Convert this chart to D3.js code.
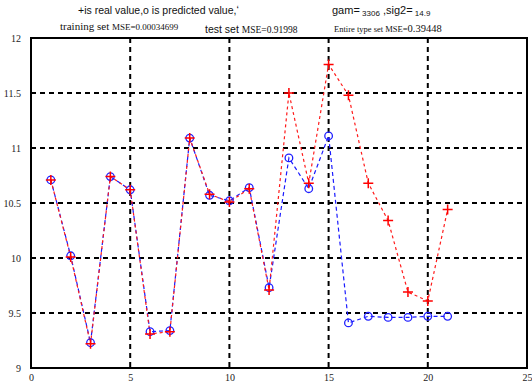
<!DOCTYPE html>
<html>
<head>
<meta charset="utf-8">
<script src="https://cdn.jsdelivr.net/npm/d3@7"></script>
<style>
  body { margin: 0; background: #fff; }
  svg { display: block; }
</style>
</head>
<body>
<svg id="mychart"></svg>
<script>
const width = 532, height = 388
const margin = ({top: 38, right: 5, bottom: 20, left: 31})

const xs = d3.range(1, 22)
const realValue = [10.71, 10.01, 9.22, 10.74, 10.62, 9.31, 9.33, 11.09, 10.58, 10.51, 10.63,
  9.71, 11.50, 10.68, 11.76, 11.48, 10.68, 10.34, 9.69, 9.61, 10.44]
const predValue = [10.71, 10.02, 9.23, 10.74, 10.62, 9.33, 9.34, 11.09, 10.57, 10.52, 10.64,
  9.73, 10.91, 10.63, 11.11, 9.41, 9.47, 9.46, 9.46, 9.47, 9.47]
const xTicks = [0, 5, 10, 15, 20, 25]
const yTicks = [9, 9.5, 10, 10.5, 11, 11.5, 12]

const x = d3.scaleLinear().domain([0, 25]).range([margin.left, width - margin.right])
const y = d3.scaleLinear().domain([9, 12]).range([height - margin.bottom, margin.top])

const svg = d3.select('#mychart').attr('width', width).attr('height', height)

// grid
svg.append("g")
  .selectAll("line")
  .data(xTicks.slice(1, -1))
  .join("line")
  .attr("x1", d => x(d)).attr("x2", d => x(d))
  .attr("y1", y(12)).attr("y2", y(9))
  .attr("stroke", "#000").attr("stroke-width", 2).attr("stroke-dasharray", "5,4")
svg.append("g")
  .selectAll("line")
  .data(yTicks.slice(1, -1))
  .join("line")
  .attr("x1", x(0)).attr("x2", x(25))
  .attr("y1", d => y(d)).attr("y2", d => y(d))
  .attr("stroke", "#000").attr("stroke-width", 2).attr("stroke-dasharray", "5,4")

// box
svg.append("rect")
  .attr("x", x(0)).attr("y", y(12))
  .attr("width", x(25) - x(0)).attr("height", y(9) - y(12))
  .attr("fill", "none").attr("stroke", "#000").attr("stroke-width", 2)

// axes
const xAxis = g => g
  .attr("transform", `translate(0,${y(9)})`)
  .call(d3.axisBottom(x).tickValues(xTicks).tickSize(0).tickPadding(6))
  .call(g => g.select(".domain").remove())
const yAxis = g => g
  .attr("transform", `translate(${x(0)},0)`)
  .call(d3.axisLeft(y).tickValues(yTicks).tickFormat(d3.format("")).tickSize(0).tickPadding(10))
  .call(g => g.select(".domain").remove())
svg.append("g").call(xAxis)
svg.append("g").call(yAxis)
svg.selectAll(".tick text").attr("font-family", "Liberation Serif, serif").attr("font-size", 10).attr("fill", "#222")

const line = d3.line().x((d, i) => x(xs[i])).y(d => y(d))

// predicted (blue o)
svg.append("path").datum(predValue).attr("d", line)
  .attr("fill", "none").attr("stroke", "#1a1aff").attr("stroke-width", 1.2).attr("stroke-dasharray", "4,3")
// real (red +)
svg.append("path").datum(realValue).attr("d", line)
  .attr("fill", "none").attr("stroke", "#ff1a1a").attr("stroke-width", 1.2).attr("stroke-dasharray", "3,3")

svg.append("g").selectAll("circle").data(predValue).join("circle")
  .attr("cx", (d, i) => x(xs[i])).attr("cy", d => y(d)).attr("r", 3.8)
  .attr("fill", "none").attr("stroke", "#2020ff").attr("stroke-width", 1.3)

svg.append("g").selectAll("path").data(realValue).join("path")
  .attr("d", (d, i) => { const cx = x(xs[i]), cy = y(d); return `M${cx-5},${cy}H${cx+5}M${cx},${cy-5}V${cy+5}` })
  .attr("stroke", "#ff0000").attr("stroke-width", 1.5)

// titles
svg.append("text").attr("x", 78).attr("y", 14)
  .attr("font-family", "Liberation Sans, Arial, sans-serif").attr("font-size", 10.5).attr("fill", "#111")
  .text("+is real value,o is predicted value,ʻ")
const gt = svg.append("text").attr("x", 332).attr("y", 14)
  .attr("font-family", "Liberation Sans, Arial, sans-serif").attr("font-size", 11).attr("fill", "#111")
gt.append("tspan").text("gam=")
gt.append("tspan").attr("font-size", 8).attr("dy", 2).text(" 3306")
gt.append("tspan").attr("dy", -2).text(" ,sig2=")
gt.append("tspan").attr("font-size", 8).attr("dy", 2).text(" 14.9")

svg.append("text").attr("x", 60).attr("y", 30)
  .attr("font-family", "Liberation Serif, serif").attr("font-size", 11).attr("fill", "#111")
  .text("training set ").append("tspan").attr("font-size", 9).text("MSE=0.00034699")
svg.append("text").attr("x", 205).attr("y", 33)
  .attr("font-family", "Liberation Sans, Arial, sans-serif").attr("font-size", 10.5).attr("fill", "#111")
  .text("test set  ").append("tspan").attr("font-family", "Liberation Serif, serif").attr("font-size", 9.5).text("MSE=0.91998")
svg.append("text").attr("x", 334).attr("y", 32)
  .attr("font-family", "Liberation Serif, serif").attr("font-size", 8.5).attr("fill", "#111")
  .text("Entire type   set   MSE=").append("tspan").attr("font-size", 10.5).text("0.39448")
</script>
</body>
</html>
